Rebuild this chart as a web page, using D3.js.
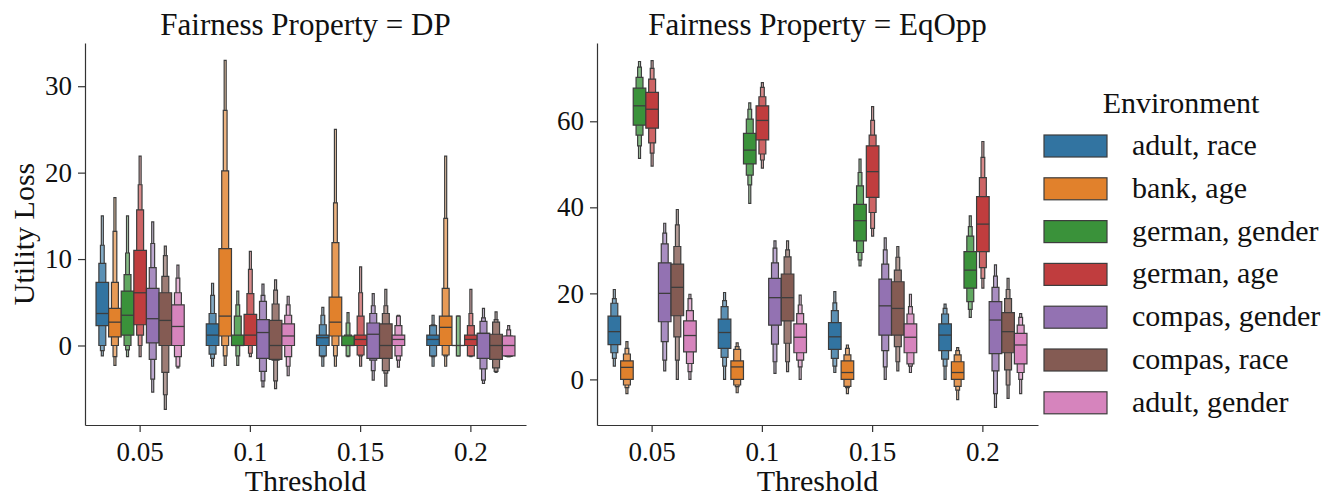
<!DOCTYPE html>
<html><head><meta charset="utf-8">
<script src="https://cdn.jsdelivr.net/npm/d3@7"></script>
<style>
body{margin:0;background:#fff}
text{font-family:"Liberation Serif","Times New Roman",serif;fill:#111}
</style>
</head><body>
<svg id="chart" width="1321" height="498"></svg>
<script>
const thresholds = ["0.05", "0.1", "0.15", "0.2"];
const environments = ["adult, race", "bank, age", "german, gender", "german, age", "compas, gender", "compas, race", "adult, gender"];
const palette = ["#3274a1", "#e1812c", "#3a923a", "#c03d3e", "#9372b2", "#845b53", "#d684bd"];
const dpTicks = [0, 10, 20, 30];
const eqTicks = [0, 20, 40, 60];

// Letter values per threshold: [median, [lo1,hi1], [lo2,hi2], [lo3,hi3], [lo4,hi4]]
// Panel: Fairness Property = DP
const dpAdultRace = [
  [3.7, [2.3, 7.3], [0, 9.5], [-0.6, 11.6], [-1.2, 15.0]],
  [1.2, [0, 2.5], [-1.0, 3.7], [-1.5, 5.8], [-2.4, 7.2]],
  [0.9, [0, 1.2], [-1.2, 2.4], [-1.3, 3.5], [-2.4, 4.4]],
  [0.7, [0, 1.2], [-1.2, 2.3], [-1.3, 2.4], [-2.4, 3.5]]];
const dpBankAge = [
  [2.7, [1.0, 4.3], [0, 7.3], [-1.3, 13.2], [-2.3, 17.1]],
  [3.4, [1.1, 11.2], [0, 20.2], [-1.2, 27.2], [-2.3, 33.0]],
  [2.7, [1.1, 5.6], [0, 11.9], [-1.2, 16.5], [-2.4, 25.0]],
  [2.1, [0, 3.4], [-1.1, 6.6], [-1.2, 14.7], [-2.4, 21.9]]];
const dpGermanGender = [
  [3.5, [1.2, 6.3], [0, 8.2], [-0.5, 10.7], [-1.3, 15.0]],
  [0, [0, 1.2], [0, 3.4], [-1.2, 4.7], [-2.3, 6.3]],
  [0, [0, 1.1], [0, 1.2], [-1.2, 2.6], [-1.3, 3.8]],
  [0, [0, 0], [0, 0], [-1.2, 3.4], [-1.2, 3.4]]];
const dpGermanAge = [
  [6.1, [2.4, 11.0], [1.2, 15.7], [0, 18.6], [-1.3, 21.9]],
  [1.2, [0, 3.6], [0, 6.0], [-0.9, 8.8], [-1.3, 10.9]],
  [0.7, [0, 1.2], [-1.1, 3.4], [-1.2, 6.1], [-2.4, 9.1]],
  [0.7, [0, 1.2], [-1.2, 2.3], [-1.2, 3.7], [-1.3, 6.5]]];
const dpCompasGender = [
  [3.1, [0.3, 6.6], [-1.6, 9.0], [-3.9, 11.8], [-5.4, 14.3]],
  [1.5, [-1.5, 3.0], [-3.0, 5.1], [-4.1, 5.8], [-4.8, 7.1]],
  [1.3, [-1.5, 2.6], [-1.7, 3.7], [-2.9, 4.6], [-4.0, 6.0]],
  [1.4, [-1.5, 1.4], [-2.7, 2.8], [-4.0, 3.2], [-4.4, 4.3]]];
const dpCompasRace = [
  [2.9, [0, 6.1], [-3.1, 8.0], [-5.7, 10.4], [-7.4, 11.5]],
  [0, [-1.6, 2.9], [-1.7, 4.8], [-4.1, 6.4], [-5.0, 7.6]],
  [0, [-1.5, 2.5], [-2.9, 3.7], [-3.2, 4.6], [-4.7, 6.5]],
  [0, [-1.6, 1.3], [-2.6, 2.7], [-3.0, 3.0], [-3.1, 3.9]]];
const dpAdultGender = [
  [2.2, [0, 4.7], [-1.3, 6.1], [-2.4, 7.8], [-2.6, 9.3]],
  [1.1, [0, 2.5], [-1.3, 3.5], [-2.4, 4.7], [-3.5, 5.7]],
  [0.7, [0, 1.2], [-1.2, 2.3], [-1.7, 3.4], [-2.5, 3.5]],
  [0, [-1.2, 1.1], [-1.25, 1.1], [-1.3, 1.8], [-1.3, 2.3]]];

// Panel: Fairness Property = EqOpp
const eqAdultRace = [
  [11.1, [8.1, 14.7], [6.2, 17.7], [4.9, 18.8], [3.1, 20.9]],
  [10.9, [7.2, 14.0], [5.1, 16.9], [3.1, 18.3], [0, 20.2]],
  [9.9, [7.0, 13.2], [4.9, 16.0], [3.1, 17.8], [1.6, 20.4]],
  [10.3, [6.7, 12.9], [4.7, 15.2], [3.1, 16.5], [0, 17.5]]];
const eqBankAge = [
  [2.8, [0, 4.3], [-1.3, 5.9], [-1.9, 7.2], [-3.3, 8.8]],
  [2.9, [0, 4.3], [-1.3, 7.0], [-1.7, 7.6], [-3.1, 8.5]],
  [1.6, [0, 4.3], [-1.6, 5.7], [-1.9, 7.2], [-3.3, 8.0]],
  [1.6, [0, 4.1], [-1.6, 5.7], [-2.5, 6.7], [-4.7, 7.4]]];
const eqGermanGender = [
  [63.6, [59.1, 67.7], [56.8, 70.2], [54.3, 72.6], [51.4, 73.9]],
  [53.3, [50.1, 57.2], [47.5, 60.5], [45.2, 62.8], [40.9, 64.3]],
  [36.9, [32.2, 40.7], [29.5, 45.0], [27.8, 48.1], [26.4, 51.2]],
  [25.4, [21.2, 29.7], [18.1, 33.3], [16.3, 35.5], [14.4, 38.0]]];
const eqGermanAge = [
  [62.8, [58.4, 66.7], [55.0, 69.8], [52.6, 72.3], [49.6, 74.1]],
  [60.2, [55.7, 63.6], [52.4, 65.7], [51.0, 67.9], [49.1, 69.0]],
  [48.3, [42.3, 54.3], [38.8, 56.8], [35.1, 60.2], [33.3, 63.4]],
  [36.1, [29.7, 42.5], [26.0, 46.9], [23.5, 51.6], [21.2, 55.3]]];
const eqCompasGender = [
  [20.0, [13.4, 27.1], [8.8, 31.5], [4.5, 34.0], [2.0, 36.3]],
  [19.0, [12.6, 23.5], [8.2, 27.1], [4.1, 30.5], [1.4, 32.2]],
  [17.1, [10.3, 23.3], [6.7, 26.8], [2.9, 30.1], [0, 32.9]],
  [13.8, [6.0, 18.1], [2.0, 21.4], [-3.3, 24.0], [-6.5, 26.6]]];
const eqCompasRace = [
  [21.4, [14.8, 26.8], [9.9, 30.9], [4.5, 35.9], [0, 39.5]],
  [19.0, [13.6, 24.5], [8.4, 28.5], [4.1, 30.1], [1.8, 32.2]],
  [16.5, [10.3, 22.7], [7.6, 25.4], [4.1, 28.4], [2.0, 30.9]],
  [11.1, [6.2, 15.5], [2.2, 18.8], [-1.3, 20.9], [-4.4, 23.5]]];
const eqAdultGender = [
  [10.2, [6.4, 13.6], [3.7, 16.0], [1.8, 18.8], [0, 19.8]],
  [9.8, [6.2, 12.9], [4.5, 15.3], [2.9, 17.3], [0, 19.6]],
  [9.8, [6.2, 12.9], [3.6, 15.2], [3.1, 16.9], [1.6, 19.8]],
  [8.0, [3.6, 10.7], [1.6, 12.6], [0, 14.4], [-3.3, 15.3]]];

const panels = [
  {title: "Fairness Property = DP", series: [dpAdultRace, dpBankAge, dpGermanGender, dpGermanAge, dpCompasGender, dpCompasRace, dpAdultGender],
   domain: [-9.2, 35], ticks: dpTicks, left: 85, right: 526, ylabel: "Utility Loss"},
  {title: "Fairness Property = EqOpp", series: [eqAdultRace, eqBankAge, eqGermanGender, eqGermanAge, eqCompasGender, eqCompasRace, eqAdultGender],
   domain: [-10.6, 78.2], ticks: eqTicks, left: 597, right: 1038, ylabel: null}
];

const svg = d3.select("#chart");
const plotTop = 43, plotBottom = 425;
const edge = "#3d3d3d";
const widthFactors = [1, 0.55, 0.3, 0.16];
const lightenFactors = [0, 0.2, 0.4, 0.6];
const TICK_FS = 27, WORD_FS = 30, TITLE_FS = 31;

function rectPath(x, y0, w, y1) {
  return `M${x},${y0}H${x + w}V${y1}H${x}Z`;
}

panels.forEach(p => {
  const g = svg.append("g");
  const x = d3.scaleBand().domain(thresholds).range([p.left, p.right]);
  const y = d3.scaleLinear().domain(p.domain).range([plotBottom, plotTop]);
  const hue = d3.scaleBand().domain(environments).range([-0.4 * x.bandwidth(), 0.4 * x.bandwidth()]);
  const bw = hue.bandwidth();

  thresholds.forEach((t, ti) => {
    environments.forEach((env, ei) => {
      const d = p.series[ei][ti];
      const cx = x(t) + x.bandwidth() / 2 + hue(env) + bw / 2;
      const base = palette[ei];
      for (let k = 4; k >= 1; k--) {
        const [lo, hi] = d[k];
        const w = bw * widthFactors[k - 1];
        g.append("path")
          .attr("d", rectPath(cx - w / 2, y(hi), w, y(lo)))
          .attr("fill", d3.interpolateRgb(base, "#ffffff")(lightenFactors[k - 1]))
          .attr("stroke", edge)
          .attr("stroke-width", 1.2);
      }
      g.append("line")
        .attr("x1", cx - bw / 2).attr("x2", cx + bw / 2)
        .attr("y1", y(d[0])).attr("y2", y(d[0]))
        .attr("stroke", edge).attr("stroke-width", 1.3);
    });
  });

  const ya = g.append("g").attr("transform", `translate(${p.left},0)`)
    .call(d3.axisLeft(y).tickValues(p.ticks).tickSize(7).tickPadding(6).tickSizeOuter(0));
  const xa = g.append("g").attr("transform", `translate(0,${plotBottom})`)
    .call(d3.axisBottom(x).tickSize(7).tickPadding(10).tickSizeOuter(0));
  [ya, xa].forEach(a => {
    a.select(".domain").attr("stroke", "#333").attr("stroke-width", 1.2);
    a.selectAll(".tick line").attr("stroke", "#333").attr("stroke-width", 1.2);
    a.selectAll(".tick text").attr("font-size", TICK_FS).attr("fill", "#111")
      .style("font-family", '"Liberation Serif", serif');
  });

  g.append("text").attr("x", (p.left + p.right) / 2).attr("y", 35)
    .attr("text-anchor", "middle").attr("font-size", TITLE_FS).text(p.title);
  g.append("text").attr("x", (p.left + p.right) / 2).attr("y", 491)
    .attr("text-anchor", "middle").attr("font-size", WORD_FS).text("Threshold");
  if (p.ylabel) {
    g.append("text").attr("transform", `translate(34,${(plotTop + plotBottom) / 2}) rotate(-90)`)
      .attr("text-anchor", "middle").attr("font-size", WORD_FS).text(p.ylabel);
  }
});

const lg = svg.append("g");
lg.append("text").attr("x", 1181).attr("y", 113).attr("text-anchor", "middle")
  .attr("font-size", WORD_FS).text("Environment");
environments.forEach((env, i) => {
  const yy = 135 + i * 42.8;
  lg.append("rect").attr("x", 1044).attr("y", yy).attr("width", 63).attr("height", 22)
    .attr("fill", palette[i]).attr("stroke", edge).attr("stroke-width", 1.2);
  lg.append("text").attr("x", 1132).attr("y", yy + 20).attr("font-size", WORD_FS).text(env);
});
</script>
</body></html>
